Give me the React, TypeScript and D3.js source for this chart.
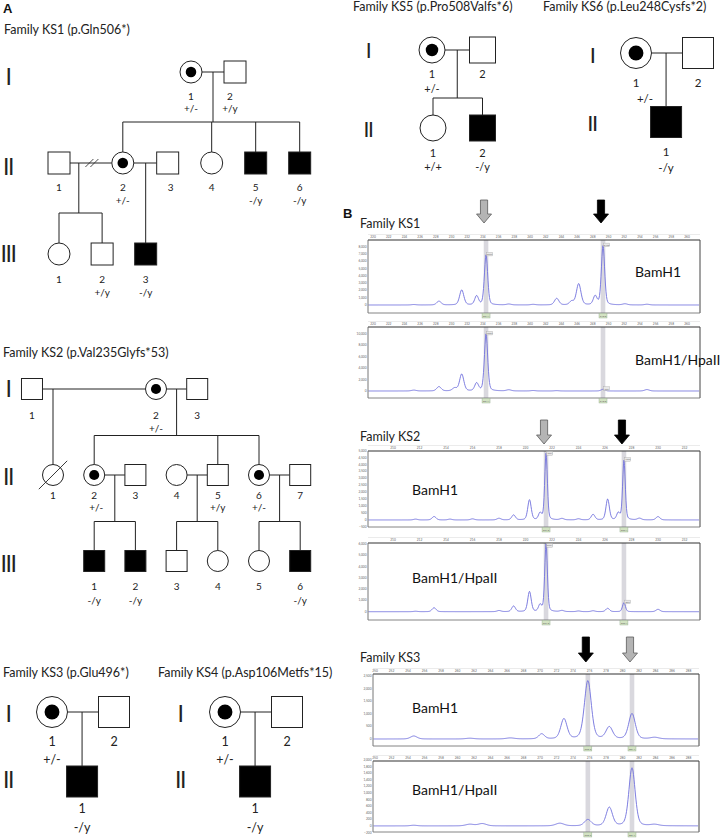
import React from "react";
import * as d3 from "d3";

const FONT = "Lato, 'Open Sans', sans-serif";

// ================= Panel A: pedigree data =================
type Sex = "M" | "F";
type Status = "aff" | "car" | "unaff";
type Person = [string, Sex, Status, string, boolean?]; // id, sex, status, genotype, deceased
type Union = [string, string, string[], boolean?]; // partnerA, partnerB, children, divorced

const familyTitles = [
  "Family KS1 (p.Gln506*)",
  "Family KS2 (p.Val235Glyfs*53)",
  "Family KS3 (p.Glu496*)",
  "Family KS4 (p.Asp106Metfs*15)",
  "Family KS5 (p.Pro508Valfs*6)",
  "Family KS6 (p.Leu248Cysfs*2)",
];

const ks1People: Person[] = [
  ["I-1", "F", "car", "+/-"], ["I-2", "M", "unaff", "+/y"],
  ["II-1", "M", "unaff", ""], ["II-2", "F", "car", "+/-"], ["II-3", "M", "unaff", ""],
  ["II-4", "F", "unaff", ""], ["II-5", "M", "aff", "-/y"], ["II-6", "M", "aff", "-/y"],
  ["III-1", "F", "unaff", ""], ["III-2", "M", "unaff", "+/y"], ["III-3", "M", "aff", "-/y"],
];
const ks1Unions: Union[] = [
  ["I-1", "I-2", ["II-2", "II-4", "II-5", "II-6"]],
  ["II-1", "II-2", ["III-1", "III-2"], true],
  ["II-2", "II-3", ["III-3"]],
];

const ks2People: Person[] = [
  ["I-1", "M", "unaff", ""], ["I-2", "F", "car", "+/-"], ["I-3", "M", "unaff", ""],
  ["II-1", "F", "unaff", "", true], ["II-2", "F", "car", "+/-"], ["II-3", "M", "unaff", ""],
  ["II-4", "F", "unaff", ""], ["II-5", "M", "unaff", "+/y"], ["II-6", "F", "car", "+/-"], ["II-7", "M", "unaff", ""],
  ["III-1", "M", "aff", "-/y"], ["III-2", "M", "aff", "-/y"], ["III-3", "M", "unaff", ""],
  ["III-4", "F", "unaff", ""], ["III-5", "F", "unaff", ""], ["III-6", "M", "aff", "-/y"],
];
const ks2Unions: Union[] = [
  ["I-1", "I-2", ["II-1"]],
  ["I-2", "I-3", ["II-2", "II-5", "II-6"]],
  ["II-2", "II-3", ["III-1", "III-2"]],
  ["II-4", "II-5", ["III-3", "III-4"]],
  ["II-6", "II-7", ["III-5", "III-6"]],
];

const ks3People: Person[] = [["I-1", "F", "car", "+/-"], ["I-2", "M", "unaff", ""], ["II-1", "M", "aff", "-/y"]];
const ks3Unions: Union[] = [["I-1", "I-2", ["II-1"]]];
const ks4People: Person[] = [["I-1", "F", "car", "+/-"], ["I-2", "M", "unaff", ""], ["II-1", "M", "aff", "-/y"]];
const ks4Unions: Union[] = [["I-1", "I-2", ["II-1"]]];
const ks5People: Person[] = [
  ["I-1", "F", "car", "+/-"], ["I-2", "M", "unaff", ""],
  ["II-1", "F", "unaff", "+/+"], ["II-2", "M", "aff", "-/y"],
];
const ks5Unions: Union[] = [["I-1", "I-2", ["II-1", "II-2"]]];
const ks6People: Person[] = [["I-1", "F", "car", "+/-"], ["I-2", "M", "unaff", ""], ["II-1", "M", "aff", "-/y"]];
const ks6Unions: Union[] = [["I-1", "I-2", ["II-1"]]];

const romanLabels = ["I", "II", "III"];

// ---------- pedigree layouts (positions / sizes only) ----------
type Layout = {
  x0: number; dx: number; slots: Record<string, number>; genY: number[]; size: number; sibGap: number;
  romanX: number; romanY: number[]; romanSize: number; font: number; numDy: number[]; genoDy: number[];
  titleX: number; titleY: number; titleSize: number; dropSlot?: Record<string, number>; labelDx?: Record<string, number>;
  genoDx?: Record<string, number>;
};

const layouts: Layout[] = [
  {
    x0: 59, dx: 44, genY: [72, 163, 254], size: 22, sibGap: 30,
    slots: { "I-1": 3, "I-2": 4, "II-1": 0, "II-2": 1.45, "II-3": 2.47, "II-4": 3.47, "II-5": 4.47, "II-6": 5.47, "III-1": 0, "III-2": 0.98, "III-3": 1.97 },
    dropSlot: { "II-1+II-2": 0.45 }, labelDx: { "I-2": -5, "II-3": 3 },
    romanX: 8, romanY: [85, 175, 262], romanSize: 23, font: 10, numDy: [16.5, 17, 18], genoDy: [29, 29.5, 31],
    titleX: 4, titleY: 34, titleSize: 12.5,
  },
  {
    x0: 53, dx: 41.2, genY: [389, 475, 561], size: 21, sibGap: 29,
    slots: { "I-1": -0.51, "I-2": 2.5, "I-3": 3.5, "II-1": 0, "II-2": 1, "II-3": 2, "II-4": 3, "II-5": 4, "II-6": 5, "II-7": 6, "III-1": 1, "III-2": 2, "III-3": 3, "III-4": 4, "III-5": 5, "III-6": 6 },
    genoDx: { "II-2": 2 },
    romanX: 8, romanY: [397, 485, 572], romanSize: 23, font: 10, numDy: [19, 13.5, 18.5], genoDy: [32, 25, 32],
    titleX: 3, titleY: 357, titleSize: 12.5,
  },
  {
    x0: 52, dx: 31, genY: [712, 781.5], size: 31, sibGap: 20,
    slots: { "I-1": 0, "I-2": 2, "II-1": 0.97 },
    romanX: 8, romanY: [722, 788], romanSize: 23, font: 12.5, numDy: [18.5, 16], genoDy: [36.5, 35],
    titleX: 3, titleY: 677, titleSize: 12.5,
  },
  {
    x0: 225, dx: 31, genY: [712, 781.5], size: 31, sibGap: 20,
    slots: { "I-1": 0, "I-2": 2, "II-1": 0.97 },
    romanX: 180, romanY: [722, 788], romanSize: 23, font: 12.5, numDy: [18.5, 16], genoDy: [36.5, 35],
    titleX: 158, titleY: 677, titleSize: 12.5,
  },
  {
    x0: 432, dx: 50.5, genY: [50, 128], size: 26, sibGap: 17,
    slots: { "I-1": 0, "I-2": 1, "II-1": 0.02, "II-2": 1 },
    romanX: 368, romanY: [58, 137], romanSize: 21, font: 11, numDy: [15, 16], genoDy: [30, 30],
    titleX: 353, titleY: 11, titleSize: 12.5,
  },
  {
    x0: 636, dx: 31, genY: [53, 122], size: 31, sibGap: 17,
    slots: { "I-1": 0, "I-2": 2, "II-1": 0.97 },
    genoDx: { "I-1": 9 },
    romanX: 592, romanY: [63, 131], romanSize: 22, font: 11.5, numDy: [18, 18], genoDy: [34, 34],
    titleX: 543, titleY: 11, titleSize: 12.5,
  },
];

const familyPeople = [ks1People, ks2People, ks3People, ks4People, ks5People, ks6People];
const familyUnions = [ks1Unions, ks2Unions, ks3Unions, ks4Unions, ks5Unions, ks6Unions];

// ================= Panel B: fragment analysis data =================
type Peak = [number, number, number]; // size (bp), height (RFU), sigma (bp)

const egFamilies = ["Family KS1", "Family KS2", "Family KS3"];
const enzymes = ["BamH1", "BamH1/HpaII"];

const ks1SizeTicks = [220, 222, 224, 226, 228, 230, 232, 234, 236, 238, 240, 242, 244, 246, 248, 250, 252, 254, 256, 258, 260];
const ks2SizeTicks = [210, 212, 214, 216, 218, 220, 222, 224, 226, 228, 230, 232];
const ks3SizeTicks = [250, 252, 254, 256, 258, 260, 262, 264, 266, 268, 270, 272, 274, 276, 278, 280, 282, 284, 286, 288];

const ks1BamTicks = [0, 1000, 2000, 3000, 4000, 5000, 6000, 7000, 8000];
const ks1HpaTicks = [0, 2000, 4000, 6000, 8000, 10000];
const ks2BamTicks = [-500, 0, 500, 1000, 1500, 2000, 2500, 3000, 3500, 4000, 4500, 5000];
const ks2HpaTicks = [0, 1000, 2000, 3000, 4000, 5000, 6000];
const ks3BamTicks = [0, 500, 1000, 1500, 2000, 2500];
const ks3HpaTicks = [-200, 0, 200, 400, 600, 800, 1000, 1200, 1400, 1600, 1800, 2000];

const ks1BamPeaks: Peak[] = [
  [225.2, 60, 0.3], [228.4, 520, 0.28], [231.3, 2050, 0.27], [233.2, 1220, 0.24], [234.4, 6850, 0.21],
  [237.3, 120, 0.3], [240.4, 80, 0.3], [243.4, 900, 0.28], [245.3, 480, 0.26], [246.2, 2900, 0.29],
  [248.3, 1200, 0.24], [249.3, 8100, 0.21], [252.1, 150, 0.3], [254.9, 100, 0.3],
];
const ks1HpaPeaks: Peak[] = [
  [225.2, 150, 0.3], [228.4, 760, 0.28], [230.4, 500, 0.28], [231.3, 2950, 0.27], [233.2, 1360, 0.24],
  [234.4, 10000, 0.21], [237.3, 200, 0.3], [240.4, 80, 0.3], [243.4, 60, 0.3], [249.3, 300, 0.25], [254.9, 250, 0.3],
];
const ks2BamPeaks: Peak[] = [
  [211.7, 60, 0.15], [213.1, 250, 0.15], [214.3, 60, 0.15], [216.0, 80, 0.15], [218.0, 120, 0.15],
  [219.1, 360, 0.14], [220.3, 1450, 0.13], [221.1, 480, 0.12], [221.55, 4800, 0.1], [222.75, 100, 0.15],
  [224.0, 80, 0.15], [225.1, 400, 0.14], [226.2, 1500, 0.13], [227.0, 480, 0.12], [227.43, 4300, 0.1],
  [228.6, 120, 0.15], [230.0, 240, 0.15],
];
const ks2HpaPeaks: Peak[] = [
  [211.7, 40, 0.15], [213.1, 350, 0.15], [218.0, 100, 0.15], [219.1, 500, 0.14], [220.3, 1780, 0.13],
  [221.1, 590, 0.12], [221.55, 6000, 0.1], [222.75, 100, 0.15], [224.0, 60, 0.15], [225.1, 80, 0.15],
  [226.2, 300, 0.14], [227.43, 800, 0.11], [230.0, 210, 0.15],
];
const ks3BamPeaks: Peak[] = [
  [254.7, 120, 0.4], [261.5, 30, 0.5], [266.4, 40, 0.5], [270.2, 200, 0.35], [272.9, 800, 0.38],
  [275.8, 2320, 0.42], [278.4, 470, 0.4], [281.15, 1010, 0.4], [283.9, 60, 0.5],
];
const ks3HpaPeaks: Peak[] = [
  [254.7, 20, 0.4], [261.5, 50, 0.5], [263.0, 70, 0.5], [272.4, 80, 0.5], [275.8, 190, 0.4],
  [278.4, 560, 0.38], [281.15, 1760, 0.38], [283.9, 40, 0.5],
];

// markers: [size, colour of the arrow]
const ks1Markers: [number, string][] = [[234.4, "gray"], [249.3, "black"]];
const ks2Markers: [number, string][] = [[221.55, "gray"], [227.43, "black"]];
const ks3Markers: [number, string][] = [[275.8, "black"], [281.15, "gray"]];
const ks1Calls = ["234.4", "249.3"];
const ks2Calls = ["221.5", "227.4"];
const ks3Calls = ["275.7", "281.1"];

type EgLayout = {
  fam: number; enz: number; peaks: Peak[]; sizeTicks: number[]; yTicks: number[];
  markers: [number, string][]; calls: string[];
  frame: [number, number, number, number]; xCal: [number, number]; yCal: [number, number];
  enzX: number; enzY: number; boxes: boolean; arrows?: [number, number]; famY?: number;
};

const egLayouts: EgLayout[] = [
  { fam: 0, enz: 0, peaks: ks1BamPeaks, sizeTicks: ks1SizeTicks, yTicks: ks1BamTicks, markers: ks1Markers, calls: ks1Calls,
    frame: [368, 700, 240, 313], xCal: [373, 687], yCal: [305, 246.6], enzX: 635, enzY: 277, boxes: true, arrows: [200, 223], famY: 228 },
  { fam: 0, enz: 1, peaks: ks1HpaPeaks, sizeTicks: ks1SizeTicks, yTicks: ks1HpaTicks, markers: ks1Markers, calls: ks1Calls,
    frame: [368, 700, 327, 398], xCal: [373, 687], yCal: [391, 334], enzX: 635, enzY: 365, boxes: true },
  { fam: 1, enz: 0, peaks: ks2BamPeaks, sizeTicks: ks2SizeTicks, yTicks: ks2BamTicks, markers: ks2Markers, calls: ks2Calls,
    frame: [368, 700, 451, 527], xCal: [393, 684.5], yCal: [526.9, 450.7], enzX: 412, enzY: 495, boxes: true, arrows: [420, 444], famY: 441 },
  { fam: 1, enz: 1, peaks: ks2HpaPeaks, sizeTicks: ks2SizeTicks, yTicks: ks2HpaTicks, markers: ks2Markers, calls: ks2Calls,
    frame: [368, 700, 543, 620], xCal: [393, 684.5], yCal: [611.7, 544], enzX: 412, enzY: 583, boxes: true },
  { fam: 2, enz: 0, peaks: ks3BamPeaks, sizeTicks: ks3SizeTicks, yTicks: ks3BamTicks, markers: ks3Markers, calls: ks3Calls,
    frame: [373, 699, 674, 746], xCal: [375, 688.5], yCal: [739, 676.3], enzX: 412, enzY: 713, boxes: false, arrows: [637, 662], famY: 662 },
  { fam: 2, enz: 1, peaks: ks3HpaPeaks, sizeTicks: ks3SizeTicks, yTicks: ks3HpaTicks, markers: ks3Markers, calls: ks3Calls,
    frame: [373, 699, 761, 832], xCal: [375, 688.5], yCal: [832.5, 760], enzX: 412, enzY: 795, boxes: false },
];

// ================= components =================
const genIndex = (id: string) => id.split("-")[0].length - 1;
const numOf = (id: string) => id.split("-")[1];

function Pedigree({ fi }: { fi: number }) {
  const L = layouts[fi];
  const people = familyPeople[fi];
  const unions = familyUnions[fi];
  const xs = d3.scaleLinear().domain([0, 1]).range([L.x0, L.x0 + L.dx]);
  const h = L.size / 2;
  const px = (id: string) => xs(L.slots[id]);
  const py = (id: string) => L.genY[genIndex(id)];
  const stroke = "#222";
  const sw = 1;
  const lines: JSX.Element[] = [];

  unions.forEach(([a, b, kids, divorced], i) => {
    const xa = px(a), xb = px(b), y = py(a);
    const left = Math.min(xa, xb) + h, right = Math.max(xa, xb) - h;
    lines.push(<line key={`u${i}`} x1={left} x2={right} y1={y} y2={y} stroke={stroke} strokeWidth={sw} />);
    if (divorced) {
      const cx = (left + right) / 2 + 1;
      [-2.5, 2.5].forEach((o, k) =>
        lines.push(<line key={`d${i}${k}`} x1={cx + o - 4} y1={y + 4} x2={cx + o + 4} y2={y - 4} stroke={stroke} strokeWidth={0.8} />)
      );
    }
    const key = `${a}+${b}`;
    const dropX = L.dropSlot && L.dropSlot[key] !== undefined ? xs(L.dropSlot[key]) : (left + right) / 2;
    const childTop = L.genY[genIndex(kids[0])] - h;
    if (kids.length === 1) {
      const cx = px(kids[0]);
      lines.push(<line key={`k${i}`} x1={cx} x2={cx} y1={y} y2={childTop} stroke={stroke} strokeWidth={sw} />);
    } else {
      const sibY = childTop - L.sibGap;
      const kx = kids.map(px);
      lines.push(<line key={`v${i}`} x1={dropX} x2={dropX} y1={y} y2={sibY} stroke={stroke} strokeWidth={sw} />);
      lines.push(<line key={`s${i}`} x1={Math.min(...kx, dropX)} x2={Math.max(...kx, dropX)} y1={sibY} y2={sibY} stroke={stroke} strokeWidth={sw} />);
      kx.forEach((cx, j) =>
        lines.push(<line key={`c${i}${j}`} x1={cx} x2={cx} y1={sibY} y2={childTop} stroke={stroke} strokeWidth={sw} />)
      );
    }
  });

  return (
    <g>
      <text x={L.titleX} y={L.titleY} fontSize={L.titleSize} fill="#222">{familyTitles[fi]}</text>
      {L.romanY.map((ry, g) => (
        <text key={g} x={L.romanX} y={ry} fontSize={L.romanSize} textAnchor="middle" letterSpacing={-1.5} fill="#222">
          {romanLabels[g]}
        </text>
      ))}
      {lines}
      {people.map(([id, sex, status, geno, dead]) => {
        const x = px(id), y = py(id);
        const fill = status === "aff" ? "#000" : "#fff";
        const g = genIndex(id);
        const ldx = (L.labelDx && L.labelDx[id]) || 0;
        const gdx = ((L.genoDx && L.genoDx[id]) || 0) + ldx;
        return (
          <g key={id}>
            {sex === "M" ? (
              <rect x={x - h} y={y - h} width={L.size} height={L.size} fill={fill} stroke={stroke} strokeWidth={sw} />
            ) : (
              <circle cx={x} cy={y} r={h} fill={fill} stroke={stroke} strokeWidth={sw} />
            )}
            {status === "car" && <circle cx={x} cy={y} r={h * 0.48} fill="#000" />}
            {dead && <line x1={x - h * 1.35} y1={y + h * 1.35} x2={x + h * 1.35} y2={y - h * 1.35} stroke={stroke} strokeWidth={0.9} />}
            <text x={x + ldx} y={y + h + L.numDy[g]} fontSize={L.font} textAnchor="middle" fill="#222">{numOf(id)}</text>
            {geno && (
              <text x={x + gdx} y={y + h + L.genoDy[g]} fontSize={L.font} textAnchor="middle" fill="#222">{geno}</text>
            )}
          </g>
        );
      })}
    </g>
  );
}

function arrowPath(cx: number, top: number, bottom: number) {
  const sh = 3.6, hw = 7.5, hh = 9;
  return `M${cx - sh},${top}L${cx + sh},${top}L${cx + sh},${bottom - hh}L${cx + hw},${bottom - hh}L${cx},${bottom}L${cx - hw},${bottom - hh}L${cx - sh},${bottom - hh}Z`;
}

function peakValue(peaks: Peak[], bp: number) {
  let v = 0;
  for (const [c, hgt, s] of peaks) {
    const d = bp - c;
    const gss = Math.exp(-(d * d) / (2 * s * s));
    const gam = s * 1.1774;
    const lor = 1 / (1 + (d / gam) * (d / gam));
    v += hgt * (0.72 * gss + 0.28 * lor);
  }
  return v;
}

function Electro({ cfg, idx }: { cfg: EgLayout; idx: number }) {
  const [fl, fr, ft, fb] = cfg.frame;
  const st = cfg.sizeTicks;
  const x = d3.scaleLinear().domain([st[0], st[st.length - 1]]).range(cfg.xCal);
  const yt = cfg.yTicks;
  const y = d3.scaleLinear().domain([yt[0], yt[yt.length - 1]]).range(cfg.yCal);
  const pxs = d3.range(fl + 0.5, fr - 0.5, 0.5);
  const pts: [number, number][] = pxs.map((p) => {
    const v = peakValue(cfg.peaks, x.invert(p));
    return [p, Math.max(ft + 0.6, Math.min(fb - 0.5, y(v)))];
  });
  const line = d3.line<[number, number]>().x((d) => d[0]).y((d) => d[1]);
  const fmt = d3.format(",");
  return (
    <g>
      {cfg.famY !== undefined && (
        <text x={360} y={cfg.famY} fontSize={12.5} fill="#222">{egFamilies[cfg.fam]}</text>
      )}
      {/* size ruler */}
      <line x1={fl} x2={fr} y1={ft - 5.5} y2={ft - 5.5} stroke="#ddd" strokeWidth={0.6} />
      {st.map((t) => (
        <text key={t} x={x(t)} y={ft - 2} fontSize={3.2} textAnchor="middle" fill="#666">{t}</text>
      ))}
      <rect x={fl} y={ft} width={fr - fl} height={fb - ft} fill="#fff" />
      {cfg.markers.map(([m], i) => (
        <rect key={i} x={x(m) - 2.3} y={ft} width={4.6} height={fb - ft} fill="#d9d8de" />
      ))}
      <path d={line(pts) || ""} fill="none" stroke="#6f6fdc" strokeWidth={0.9} />
      <line x1={fl} x2={fr} y1={ft} y2={ft} stroke="#333" strokeWidth={1.2} />
      <line x1={fr} x2={fr} y1={ft} y2={fb} stroke="#444" strokeWidth={1} />
      <line x1={fl} x2={fl} y1={ft} y2={fb} stroke="#666" strokeWidth={0.9} />
      <line x1={fl} x2={fr} y1={fb} y2={fb} stroke="#777" strokeWidth={0.9} />
      {yt.map((t) => (
        <text key={t} x={fl - 1.5} y={y(t) + 1} fontSize={3.2} textAnchor="end" fill="#666">{fmt(t)}</text>
      ))}
      {cfg.boxes &&
        cfg.markers.map(([m], i) => {
          const top = Math.max(ft + 0.6, y(peakValue(cfg.peaks, m)) - 2.5);
          return (
            <g key={`b${i}`}>
              <rect x={x(m) + 0.6} y={top} width={6} height={3.6} fill="#e8e8e8" stroke="#aaa" strokeWidth={0.4} />
              <text x={x(m) + 3.6} y={top + 2.8} fontSize={2.4} textAnchor="middle" fill="#777">
                {Math.round(peakValue(cfg.peaks, m))}
              </text>
            </g>
          );
        })}
      {cfg.markers.map(([m], i) => (
        <g key={`g${i}`}>
          <rect x={x(m) - 4} y={fb + 0.4} width={8} height={4.6} fill="#d3e3c3" stroke="#8fa88a" strokeWidth={0.4} />
          <text x={x(m)} y={fb + 3.8} fontSize={2.6} textAnchor="middle" fill="#555">{cfg.calls[i]}</text>
        </g>
      ))}
      <text x={cfg.enzX} y={cfg.enzY} fontSize={14} fill="#111">{enzymes[cfg.enz]}</text>
      {cfg.arrows &&
        cfg.markers.map(([m, col], i) => (
          <path key={`a${i}`} d={arrowPath(x(m) - 2, cfg.arrows![0], cfg.arrows![1])}
            fill={col === "black" ? "#000" : "#b4b4b4"} stroke={col === "black" ? "#000" : "#5a5a5a"} strokeWidth={0.8} />
        ))}
    </g>
  );
}

export default function App() {
  return (
    <svg width={724} height={838} viewBox="0 0 724 838" fontFamily={FONT}
      style={{ position: "absolute", left: 0, top: 0, background: "#fff" }}>
      <rect width={724} height={838} fill="#fff" />
      <text x={3} y={13} fontSize={13} fontWeight="bold" fontFamily="'Liberation Sans', Arial, sans-serif" fill="#111">A</text>
      <text x={343} y={218} fontSize={13} fontWeight="bold" fontFamily="'Liberation Sans', Arial, sans-serif" fill="#111">B</text>
      {layouts.map((_, i) => <Pedigree key={i} fi={i} />)}
      {egLayouts.map((c, i) => <Electro key={i} cfg={c} idx={i} />)}
    </svg>
  );
}
